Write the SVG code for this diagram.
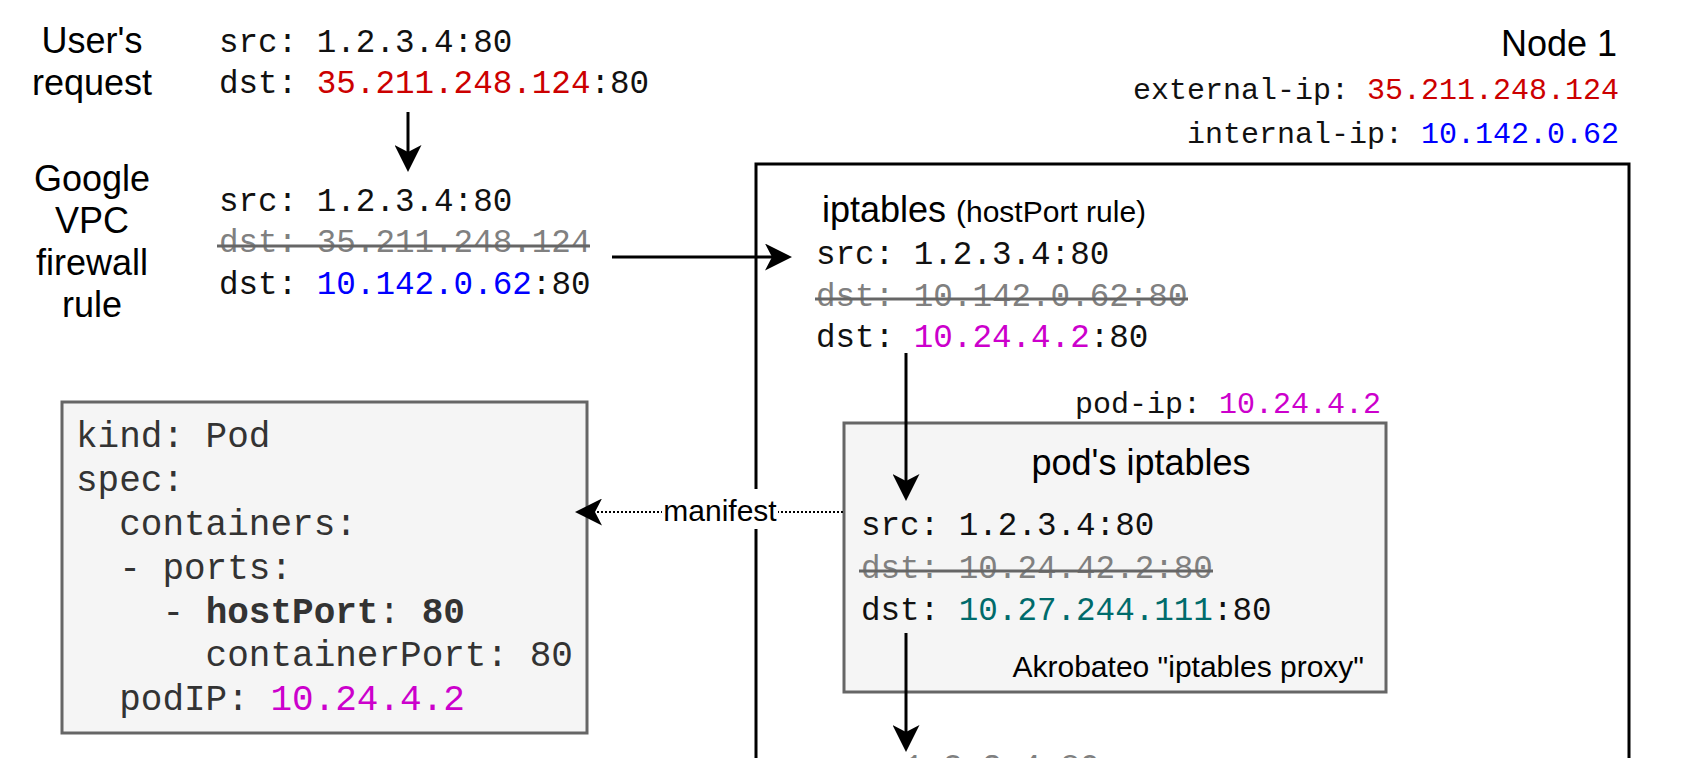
<svg xmlns="http://www.w3.org/2000/svg" width="1686" height="758" viewBox="0 0 1686 758">
<style>
.sans{font-family:"Liberation Sans",Arial,sans-serif;fill:#000}
.t36{font-size:36px}
.t30{font-size:30px}
.mono{font-family:"Liberation Mono","Courier New",monospace;font-size:32.6px;fill:#111}
.m30{font-size:30px}
.yaml{font-family:"Liberation Mono","Courier New",monospace;font-size:36px;fill:#333}
.gray{fill:#808080}
.sl{stroke:#666;stroke-width:3}
.red{fill:#CC0000}
.blue{fill:#0000FF}
.mag{fill:#CC00CC}
.teal{fill:#006B6B}
.conn{stroke:#000;stroke-width:3;fill:none}
.dot{stroke:#000;stroke-width:2;stroke-dasharray:2 2;fill:none}
</style>
<defs>
<marker id="arr" viewBox="0 0 27 27" refX="7" refY="13.5" markerWidth="27" markerHeight="27" markerUnits="userSpaceOnUse" orient="auto">
<path d="M0,0 L27,13.5 L0,27 L7,13.5 Z" fill="#000"/>
</marker>
</defs>
<rect width="1686" height="758" fill="#fff"/>

<g id="users-request">
<text class="sans t36" text-anchor="middle" x="92" y="53">User's</text>
<text class="sans t36" text-anchor="middle" x="92" y="95">request</text>
<text class="mono" x="219" y="52">src: 1.2.3.4:80</text>
<text class="mono" x="219" y="93">dst: <tspan class="red">35.211.248.124</tspan>:80</text>
</g>

<g id="vpc-firewall">
<text class="sans t36" text-anchor="middle" x="92" y="191">Google</text>
<text class="sans t36" text-anchor="middle" x="92" y="233">VPC</text>
<text class="sans t36" text-anchor="middle" x="92" y="275">firewall</text>
<text class="sans t36" text-anchor="middle" x="92" y="317">rule</text>
<text class="mono" x="219" y="211">src: 1.2.3.4:80</text>
<text class="mono gray" x="219" y="252">dst: 35.211.248.124</text>
<line class="sl" x1="217" y1="246" x2="590" y2="246"/>
<text class="mono" x="219" y="294">dst: <tspan class="blue">10.142.0.62</tspan>:80</text>
</g>

<g id="node1">
<text class="sans t36" text-anchor="end" x="1617" y="56">Node 1</text>
<text class="mono m30" text-anchor="end" x="1619" y="99">external-ip: <tspan class="red">35.211.248.124</tspan></text>
<text class="mono m30" text-anchor="end" x="1619" y="143">internal-ip: <tspan class="blue">10.142.0.62</tspan></text>
<rect x="756" y="164" width="873" height="640" fill="none" stroke="#000" stroke-width="3"/>
</g>

<g id="iptables">
<text class="sans" x="822" y="222"><tspan class="t36">iptables</tspan><tspan class="t30" x="956">(hostPort rule)</tspan></text>
<text class="mono" x="816" y="264">src: 1.2.3.4:80</text>
<text class="mono gray" x="816" y="306">dst: 10.142.0.62:80</text>
<line class="sl" x1="815" y1="299" x2="1188" y2="299"/>
<text class="mono" x="816" y="347">dst: <tspan class="mag">10.24.4.2</tspan>:80</text>
</g>

<g id="pod-iptables">
<text class="mono m30" text-anchor="end" x="1381" y="413">pod-ip: <tspan class="mag">10.24.4.2</tspan></text>
<rect x="844" y="423" width="542" height="269" fill="#f5f5f5" stroke="#666" stroke-width="3"/>
<text class="sans t36" text-anchor="middle" x="1141" y="475">pod's iptables</text>
<text class="mono" x="861" y="535">src: 1.2.3.4:80</text>
<text class="mono gray" x="861" y="578">dst: 10.24.42.2:80</text>
<line class="sl" x1="859" y1="571" x2="1213" y2="571"/>
<text class="mono" x="861" y="620">dst: <tspan class="teal">10.27.244.111</tspan>:80</text>
<text class="sans t30" text-anchor="end" x="1364" y="677">Akrobateo "iptables proxy"</text>
</g>

<g id="pod-manifest">
<rect x="62" y="402" width="525" height="331" fill="#f5f5f5" stroke="#666" stroke-width="3"/>
<text class="yaml" x="76" y="447">kind: Pod</text>
<text class="yaml" x="76" y="491">spec:</text>
<text class="yaml" x="76" y="535" xml:space="preserve">  containers:</text>
<text class="yaml" x="76" y="579" xml:space="preserve">  - ports:</text>
<text class="yaml" x="76" y="623" xml:space="preserve">    - <tspan font-weight="bold">hostPort</tspan>: <tspan font-weight="bold">80</tspan></text>
<text class="yaml" x="76" y="666" xml:space="preserve">      containerPort: 80</text>
<text class="yaml" x="76" y="710" xml:space="preserve">  podIP: <tspan class="mag">10.24.4.2</tspan></text>
</g>

<g id="next-hop">
<text class="mono gray" x="904" y="777">1.2.3.4:80</text>
</g>

<g id="connectors">
<line class="conn" x1="408" y1="112" x2="408" y2="152" marker-end="url(#arr)"/>
<line class="conn" x1="612" y1="257" x2="772" y2="257" marker-end="url(#arr)"/>
<line class="conn" x1="906" y1="353" x2="906" y2="481" marker-end="url(#arr)"/>
<line class="dot" x1="843" y1="512" x2="595" y2="512" marker-end="url(#arr)"/>
<rect x="662" y="489" width="116" height="40" fill="#fff"/>
<text class="sans t30" text-anchor="middle" x="720" y="521">manifest</text>
<line class="conn" x1="906" y1="633" x2="906" y2="732" marker-end="url(#arr)"/>
</g>
</svg>
